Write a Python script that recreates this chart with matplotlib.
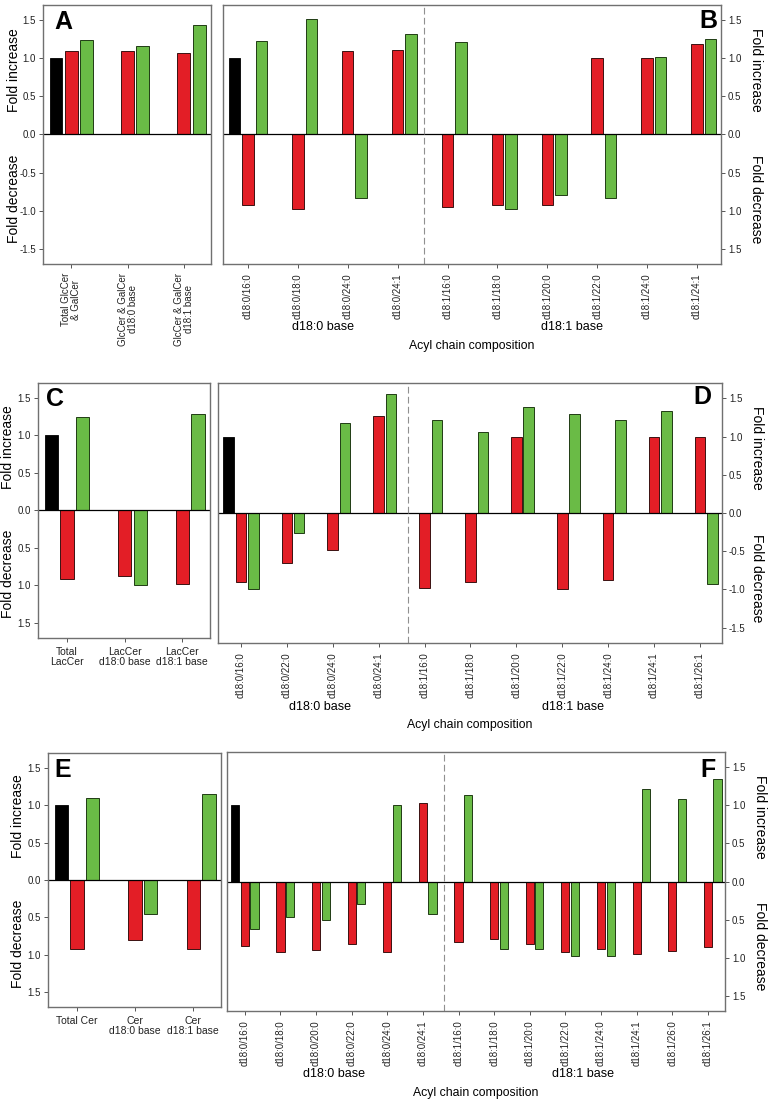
import numpy as np
import matplotlib.pyplot as plt
from matplotlib.ticker import FuncFormatter

plt.rcParams['font.family'] = ['Liberation Sans', 'DejaVu Sans']

RED = '#e31e26'
GREEN = '#6abb46'
FRAME = '#707070'

# A: GlcCer & GalCer summary
a_labels = ['Total GlcCer\n& GalCer', 'GlcCer & GalCer\nd18:0 base', 'GlcCer & GalCer\nd18:1 base']
a_control = 1.0
a_red = [1.09, 1.09, 1.07]
a_green = [1.24, 1.16, 1.44]

# B: GlcCer & GalCer species
b_labels = ['d18:0/16:0', 'd18:0/18:0', 'd18:0/24:0', 'd18:0/24:1',
            'd18:1/16:0', 'd18:1/18:0', 'd18:1/20:0', 'd18:1/22:0', 'd18:1/24:0', 'd18:1/24:1']
b_control = 1.0
b_red = [-0.93, -0.98, 1.10, 1.11, -0.95, -0.92, -0.92, 1.01, 1.00, 1.19]
b_green = [1.23, 1.51, -0.83, 1.32, 1.21, -0.98, -0.79, -0.84, 1.02, 1.25]

# C: LacCer summary
c_labels = ['Total\nLacCer', 'LacCer\nd18:0 base', 'LacCer\nd18:1 base']
c_control = 1.0
c_red = [-0.92, -0.87, -0.985]
c_green = [1.24, -1.00, 1.28]

# D: LacCer species
d_labels = ['d18:0/16:0', 'd18:0/22:0', 'd18:0/24:0', 'd18:0/24:1',
            'd18:1/16:0', 'd18:1/18:0', 'd18:1/20:0', 'd18:1/22:0', 'd18:1/24:0', 'd18:1/24:1', 'd18:1/26:1']
d_control = 1.0
d_red = [-0.90, -0.66, -0.48, 1.27, -0.98, -0.90, 1.0, -0.99, -0.87, 1.0, 1.0]
d_green = [-0.99, -0.26, 1.18, 1.55, 1.21, 1.06, 1.39, 1.30, 1.21, 1.33, -0.93]

# E: Cer summary
e_labels = ['Total Cer', 'Cer\nd18:0 base', 'Cer\nd18:1 base']
e_control = 1.0
e_red = [-0.92, -0.80, -0.93]
e_green = [1.10, -0.45, 1.15]

# F: Cer species
f_labels = ['d18:0/16:0', 'd18:0/18:0', 'd18:0/20:0', 'd18:0/22:0', 'd18:0/24:0', 'd18:0/24:1',
            'd18:1/16:0', 'd18:1/18:0', 'd18:1/20:0', 'd18:1/22:0', 'd18:1/24:0', 'd18:1/24:1',
            'd18:1/26:0', 'd18:1/26:1']
f_control = 1.0
f_red = [-0.84, -0.93, -0.90, -0.82, -0.93, 1.03, -0.80, -0.76, -0.82, -0.93, -0.88, -0.95, -0.91, -0.86]
f_green = [-0.62, -0.46, -0.51, -0.29, 1.01, -0.42, 1.13, -0.88, -0.89, -0.98, -0.98, 1.22, 1.08, 1.34]


def draw_bars(ax, labels, control, red, green, right=False, signed=False, letter='', lx=0.1, ly=0.93):
    x = np.arange(len(red))
    w = 0.23
    ax.bar(-0.27, control, w, color='black', edgecolor='black', lw=0.6)
    ax.bar(x, red, w, color=RED, edgecolor='#3b1212', lw=0.7)
    ax.bar(x + 0.27, green, w, color=GREEN, edgecolor='#203c14', lw=0.7)
    ax.axhline(0, color='black', lw=0.9)
    ax.set_xlim(-0.5, len(red) - 0.52)
    ax.set_ylim(-1.7, 1.7)
    ax.set_yticks([-1.5, -1.0, -0.5, 0.0, 0.5, 1.0, 1.5])
    if signed:
        ax.yaxis.set_major_formatter(FuncFormatter(lambda v, p: '%.1f' % v))
    else:
        ax.yaxis.set_major_formatter(FuncFormatter(lambda v, p: '%.1f' % abs(v)))
    if right:
        ax.yaxis.tick_right()
    ax.set_xticks(x)
    for s in ax.spines.values():
        s.set_color(FRAME)
        s.set_linewidth(1.0)
    ax.tick_params(axis='both', length=3, width=0.7, color='#555555', labelcolor='#222222')
    ax.tick_params(axis='y', labelsize=7, pad=2)
    # axis titles
    if right:
        tx, rot = 1.07, 270
    else:
        tx, rot = -0.175, 90
    tr = ax.get_yaxis_transform()
    ax.text(tx, 0.85, 'Fold increase', transform=tr, rotation=rot, ha='center', va='center', fontsize=10)
    ax.text(tx, -0.85, 'Fold decrease', transform=tr, rotation=rot, ha='center', va='center', fontsize=10)
    ax.text(lx, ly, letter, transform=ax.transAxes, ha='center', va='center', fontsize=18, fontweight='bold')


def group_labels(ax, pos0, pos1):
    tr = ax.get_xaxis_transform()
    ax.text(pos0, -0.245, 'd18:0 base', transform=tr, ha='center', va='center', fontsize=9)
    ax.text(pos1, -0.245, 'd18:1 base', transform=tr, ha='center', va='center', fontsize=9)
    ax.text(0.5, -0.315, 'Acyl chain composition', transform=ax.transAxes, ha='center', va='center', fontsize=8.8)


fig = plt.figure(figsize=(7.71, 11.04), dpi=100)

axA = fig.add_axes([0.0558, 0.7609, 0.2179, 0.2346])
axB = fig.add_axes([0.2892, 0.7609, 0.6459, 0.2346])
axC = fig.add_axes([0.0493, 0.4221, 0.2231, 0.2310])
axD = fig.add_axes([0.2827, 0.4176, 0.6537, 0.2355])
axE = fig.add_axes([0.0623, 0.0879, 0.2244, 0.2301])
axF = fig.add_axes([0.2944, 0.0842, 0.6459, 0.2346])

draw_bars(axA, a_labels, a_control, a_red, a_green, signed=True, letter='A', lx=0.12, ly=0.934)
axA.set_xticklabels(a_labels, rotation=90, fontsize=7, linespacing=1.0)

draw_bars(axB, b_labels, b_control, b_red, b_green, right=True, letter='B', lx=0.974, ly=0.94)
axB.set_xticklabels(b_labels, rotation=90, fontsize=7)
axB.axvline(3.52, color='#909090', lw=0.8, ls=(0, (6, 3)))
group_labels(axB, 1.5, 6.5)

draw_bars(axC, c_labels, c_control, c_red, c_green, letter='C', lx=0.10, ly=0.937)
axC.set_xticklabels(c_labels, fontsize=7.5, linespacing=1.05)

draw_bars(axD, d_labels, d_control, d_red, d_green, right=True, signed=True, letter='D', lx=0.962, ly=0.945)
axD.set_xticklabels(d_labels, rotation=90, fontsize=7)
axD.axvline(3.65, color='#909090', lw=0.8, ls=(0, (6, 3)))
group_labels(axD, 1.72, 7.24)

draw_bars(axE, e_labels, e_control, e_red, e_green, letter='E', lx=0.087, ly=0.933)
axE.set_xticklabels(e_labels, fontsize=7.5, linespacing=1.05)

draw_bars(axF, f_labels, f_control, f_red, f_green, right=True, letter='F', lx=0.966, ly=0.93)
axF.set_xticklabels(f_labels, rotation=90, fontsize=7)
axF.axvline(5.6, color='#909090', lw=0.8, ls=(0, (6, 3)))
group_labels(axF, 2.5, 9.5)

fig.savefig('out.png', dpi=100)
